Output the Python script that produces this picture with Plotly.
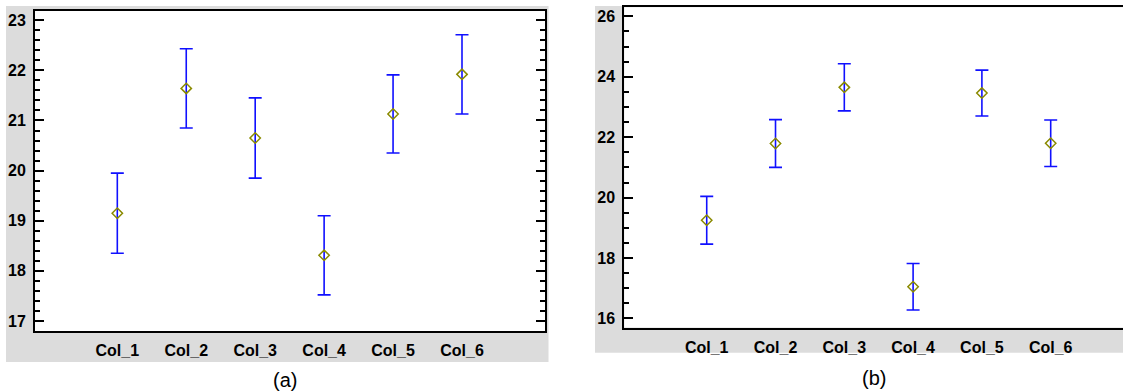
import plotly.graph_objects as go

W, H = 1123, 391

categories = ["Col_1", "Col_2", "Col_3", "Col_4", "Col_5", "Col_6"]
means_a = [19.15, 21.64, 20.65, 18.31, 21.13, 21.92]
err_a = [0.80, 0.79, 0.80, 0.79, 0.78, 0.79]
means_b = [19.25, 21.79, 23.65, 17.05, 23.46, 21.80]
err_b = [0.79, 0.79, 0.78, 0.77, 0.76, 0.77]

pos = list(range(1, len(categories) + 1))

def px(x):
    return x / W

def py(y):
    return 1 - y / H

fig = go.Figure()

marker = dict(symbol="diamond-open", size=8, color="#8a8a00", line=dict(width=1.5, color="#8a8a00"))
err_style = dict(type="data", thickness=1.6, width=6.5, color="#1010ff")

fig.add_trace(go.Scatter(x=pos, y=means_a, mode="markers", marker=marker,
                         error_y=dict(array=err_a, **err_style),
                         xaxis="x", yaxis="y", showlegend=False))
fig.add_trace(go.Scatter(x=pos, y=means_b, mode="markers", marker=marker,
                         error_y=dict(array=err_b, **err_style),
                         xaxis="x2", yaxis="y2", showlegend=False))

tickfont = dict(family="Liberation Sans, Arial", size=16, color="black", weight="bold")

common_x = dict(tickmode="array", tickvals=pos, ticktext=categories, ticks="",
                showline=True, linecolor="black", linewidth=2, mirror=True,
                showgrid=False, zeroline=False, tickfont=tickfont, ticklabelstandoff=4)

ya_dom = [py(331), py(10.7)]
xa_dom = [px(35), px(545)]
yb_dom = [py(327.5), py(7.3)]
xb_dom = [px(624.3), 1.0]

fig.update_layout(
    width=W, height=H,
    margin=dict(l=0, r=0, t=0, b=0),
    paper_bgcolor="white", plot_bgcolor="white",
    xaxis=dict(domain=xa_dom, range=[-0.194, 7.204], anchor="y", **common_x),
    yaxis=dict(domain=ya_dom, range=[16.8, 23.19], anchor="x",
               tickmode="array", tickvals=[17, 18, 19, 20, 21, 22, 23],
               ticks="inside", ticklen=9, tickwidth=2, tickcolor="black",
               minor=dict(dtick=0.2, tick0=17, ticks="inside", ticklen=5, tickwidth=2, tickcolor="black"),
               showline=True, linecolor="black", linewidth=2, mirror="ticks",
               showgrid=False, zeroline=False, tickfont=tickfont, ticklabelstandoff=4),
    xaxis2=dict(domain=xb_dom, range=[-0.198, 7.051], anchor="y2", **common_x),
    yaxis2=dict(domain=yb_dom, range=[15.70, 26.30], anchor="x2",
                tickmode="array", tickvals=[16, 18, 20, 22, 24, 26],
                ticks="inside", ticklen=9, tickwidth=2, tickcolor="black",
                minor=dict(dtick=0.5, tick0=16, ticks="inside", ticklen=5, tickwidth=2, tickcolor="black"),
                showline=True, linecolor="black", linewidth=2, mirror=False,
                showgrid=False, zeroline=False, tickfont=tickfont, ticklabelstandoff=4),
    shapes=[
        dict(type="rect", xref="paper", yref="paper", x0=px(6), x1=px(548.5), y0=py(362), y1=py(6),
             fillcolor="#dcdcdc", line=dict(width=0), layer="below"),
        dict(type="rect", xref="paper", yref="paper", x0=px(595), x1=1.0, y0=py(352.7), y1=py(6),
             fillcolor="#dcdcdc", line=dict(width=0), layer="below"),
        dict(type="rect", xref="paper", yref="paper", x0=xa_dom[0], x1=xa_dom[1], y0=ya_dom[0], y1=ya_dom[1],
             fillcolor="white", line=dict(width=0), layer="below"),
        dict(type="rect", xref="paper", yref="paper", x0=xb_dom[0], x1=xb_dom[1], y0=yb_dom[0], y1=yb_dom[1],
             fillcolor="white", line=dict(width=0), layer="below"),
    ],
    annotations=[
        dict(text="(a)", x=px(285), y=py(380), xref="paper", yref="paper", showarrow=False,
             xanchor="center", yanchor="middle", font=dict(family="Liberation Sans, Arial", size=20, color="black")),
        dict(text="(b)", x=px(874), y=py(378), xref="paper", yref="paper", showarrow=False,
             xanchor="center", yanchor="middle", font=dict(family="Liberation Sans, Arial", size=20, color="black")),
    ],
)

fig.write_html("out.html")
